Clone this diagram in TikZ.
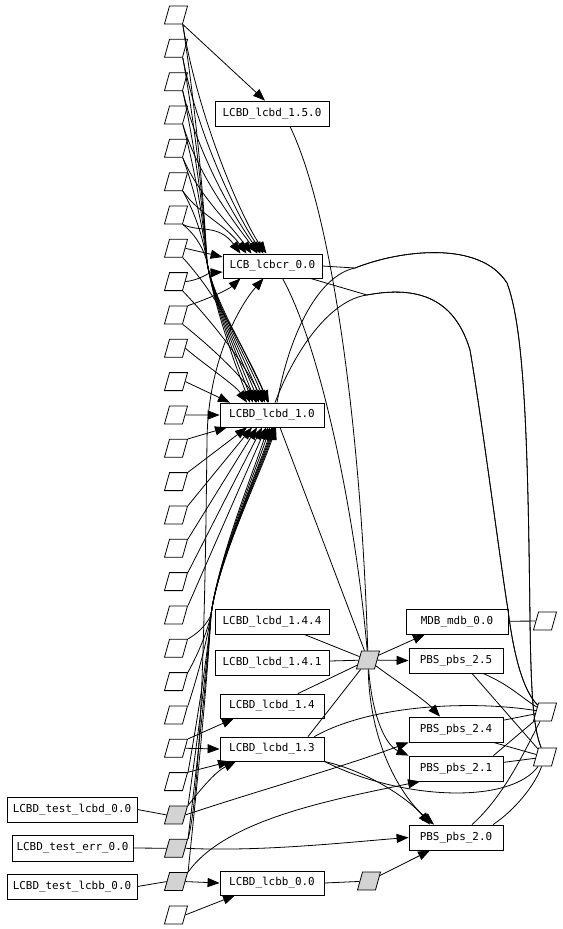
\documentclass[tikz,border=0pt]{standalone}
\usepackage{fontspec}
\newfontfamily\dotfont{DejaVu Sans Mono}
\usetikzlibrary{arrows.meta, calc}
\definecolor{srcgray}{RGB}{211,211,211}

\tikzset{
  file/.style={draw, rectangle, minimum width=13.5pt, minimum height=13.5pt, inner sep=0pt,
    xslant=0.28, transform shape},
  srcfile/.style={file, fill=srcgray},
  modbox/.style={draw, minimum height=18.75pt, inner sep=0pt,
    font=\dotfont\fontsize{8.2}{9}\selectfont},
  dep/.style={-{Triangle[length=9pt,width=6.8pt]}},
}

\begin{document}
\begin{tikzpicture}[x=0.75pt,y=-0.75pt,line width=0.6pt]
  \useasboundingbox (0,0) rectangle (562,929);

  % left column of files, 33.33 apart
  \foreach \i in {1,...,24,28}
    \node[file] (f\i) at (176,{15+(\i-1)*33.33}) {};
  \foreach \i in {25,26,27}
    \node[srcfile] (f\i) at (176,{15+(\i-1)*33.33}) {};

  % modules
  \node[modbox,minimum width=85.5pt] (l150)  at (272,113.5) {LCBD\_lcbd\_1.5.0};
  \node[modbox,minimum width=74.25pt,minimum height=18pt] (lcbcr) at (272.5,266) {LCB\_lcbcr\_0.0};
  \node[modbox,minimum width=78pt,minimum height=18pt] (l10) at (272,415) {LCBD\_lcbd\_1.0};
  \node[modbox,minimum width=85.5pt] (l144)  at (272,621.5) {LCBD\_lcbd\_1.4.4};
  \node[modbox,minimum width=85.5pt] (l141)  at (272,662.5) {LCBD\_lcbd\_1.4.1};
  \node[modbox,minimum width=78pt,minimum height=18pt] (l14) at (272,706) {LCBD\_lcbd\_1.4};
  \node[modbox,minimum width=78pt,minimum height=18pt] (l13) at (272,749) {LCBD\_lcbd\_1.3};
  \node[modbox,minimum width=78pt,minimum height=18pt] (lcbb) at (272,883) {LCBD\_lcbb\_0.0};
  \node[modbox,minimum width=97.5pt] (tl) at (72,809.5) {LCBD\_test\_lcbd\_0.0};
  \node[modbox,minimum width=90.75pt,minimum height=19.5pt] (te) at (72.5,848) {LCBD\_test\_err\_0.0};
  \node[modbox,minimum width=97.5pt] (tb) at (72,886.5) {LCBD\_test\_lcbb\_0.0};
  \node[modbox,minimum width=76.5pt] (mdb) at (457,621.5) {MDB\_mdb\_0.0};
  \node[modbox,minimum width=70.5pt] (p25) at (456,660.5) {PBS\_pbs\_2.5};
  \node[modbox,minimum width=70.5pt] (p24) at (456,729.5) {PBS\_pbs\_2.4};
  \node[modbox,minimum width=70.5pt] (p21) at (456,768.5) {PBS\_pbs\_2.1};
  \node[modbox,minimum width=70.5pt] (p20) at (456,837.5) {PBS\_pbs\_2.0};

  % other files
  \node[srcfile] (c)  at (368,660) {};
  \node[srcfile] (g2) at (369,881) {};
  \node[file] (r1) at (545,621) {};
  \node[file] (r2) at (545,712) {};
  \node[file] (r3) at (545,757) {};

  \coordinate (topneck) at (207,262);
  \coordinate (botneck) at (211,615);

  % top files -> LCB_lcbcr_0.0 and LCBD_lcbd_1.0
  \draw[dep] (f1.south east) -- ($(l150.north)+(-7,0)$);
  \foreach \i/\dx/\ex in {1/-6/-4,2/-9/-7,3/-12/-10,4/-15/-13,5/-21/-16,6/-26/-19,7/-32/-22}{
    \pgfmathsetmacro\yy{15+(\i-1)*33.33}
    \pgfmathsetmacro\ya{\yy+(254-\yy)*0.45}
    \pgfmathsetmacro\yb{\yy+(262-\yy)*0.5}
    \pgfmathsetmacro\yc{262-(262-\yy)*0.15}
    \draw[dep] (f\i.south east) .. controls (199,\ya) and ($(lcbcr.north)+(\dx-22,-30)$) .. ($(lcbcr.north)+(\dx,0)$);
    \draw[dep] (f\i.south east) .. controls (200,\yb) and (205,\yc) .. (topneck)
      .. controls (213,300) and ($(l10.north)+(\ex-18,-45)$) .. ($(l10.north)+(\ex,0)$);
  }
  \draw[dep] (f8.east) -- ($(lcbcr.west)+(0,-9)$);
  \draw[dep] (f8.south east) .. controls (222,300) and (248,360) .. ($(l10.north)+(-3,0)$);
  \draw[dep] (f9.east) .. controls (200,280) and (208,273) .. ($(lcbcr.west)+(0,6)$);
  \draw[dep] (f9.south east) .. controls (220,330) and (248,370) .. ($(l10.north)+(-9,0)$);
  \draw[dep] (f10.north east) .. controls (205,300) and (228,290) .. ($(lcbcr.south)+(-32,0)$);
  \draw[dep] (f10.south east) .. controls (215,350) and (245,380) .. ($(l10.north)+(-15,0)$);
  \draw[dep] (f11.east) .. controls (205,365) and (235,385) .. ($(l10.north)+(-25,0)$);
  \draw[dep] (f12.east) -- ($(l10.north)+(-42,0)$);
  \draw[dep] (f13.east) -- (l10.west);

  % files below -> LCBD_lcbd_1.0
  \foreach \i/\dx in {14/-45,15/-25,16/-20,17/-15,18/-10,19/-6}
    \draw[dep] (f\i.north east) -- ($(l10.south)+(\dx,0)$);
  \foreach \i/\dx in {20/-4,21/-2,22/0,24/1,25/2,26/3,27/4}{
    \pgfmathsetmacro\yy{15+(\i-1)*33.33}
    \draw[dep] (f\i.north east) .. controls (201,{\yy-(\yy-615)*0.5}) and (208,{615+(\yy-615)*0.2}) .. (botneck)
      .. controls (218,560) and ($(l10.south)+(\dx-15,45)$) .. ($(l10.south)+(\dx,0)$);
  }
  \draw[dep] (f26.north east) .. controls (204,780) and (206,520) .. (207,440)
    .. controls (208,360) and (240,305) .. ($(lcbcr.south)+(-9,0)$);

  % lower left
  \draw[dep] (f23.north east) -- ($(l14.south)+(-38,0)$);
  \draw[dep] (f23.east) -- (l13.west);
  \draw[dep] (f24.north east) -- ($(l13.south)+(-42,0)$);
  \draw[dep] (f25.north east) .. controls (200,790) and (215,772) .. ($(l13.south)+(-36,0)$);
  \draw[dep] (f25.east) .. controls (260,790) and (340,768) .. (p24.south west);
  \draw[dep] (f26.east) .. controls (260,852) and (350,842) .. (p20.west);
  \draw[dep] (f27.north east) .. controls (225,820) and (330,800) .. ($(p21.south)+(-36,0)$);
  \draw[dep] (f27.east) -- (lcbb.west);
  \draw[dep] (f28.east) -- ($(lcbb.south)+(-37,0)$);
  \draw (tl.east) -- (f25.west);
  \draw (te.east) -- (f26.west);
  \draw (tb.east) -- (f27.west);
  \draw (lcbb.east) -- (g2);
  \draw[dep] (g2) -- ($(p20.south)+(-26,0)$);

  % central file
  \draw ($(l150.south)+(18,0)$) .. controls (335,220) and (362,450) .. (c);
  \draw ($(lcbcr.south)+(10,0)$) .. controls (322,350) and (356,520) .. (c);
  \draw ($(l10.south)+(8,0)$) -- (c);
  \draw (l144) -- (c);
  \draw (l141) -- (c);
  \draw (l14) -- (c);
  \draw ($(l13.north)+(36,0)$) -- (c);
  \draw[dep] (c) -- ($(mdb.south)+(-32,0)$);
  \draw[dep] (c) -- (p25.west);
  \draw[dep] (c) .. controls (395,680) and (425,700) .. ($(p24.north)+(-16,0)$);
  \draw[dep] (c) .. controls (372,715) and (385,745) .. (p21.north west);
  \draw[dep] (c) .. controls (370,750) and (405,800) .. ($(p20.north)+(-22,0)$);
  \draw[dep] (l13.south east) .. controls (370,772) and (410,800) .. ($(p20.north)+(-26,0)$);
  \draw ($(l13.north east)+(-10,0)$) .. controls (370,705) and (470,700) .. (r2);
  \draw (l13.south east) .. controls (400,800) and (510,805) .. (r3);

  % right files
  \draw (mdb) -- (r1);
  \draw ($(p25.south)+(16,0)$) -- (r3);
  \draw ($(p25.south)+(27,0)$) .. controls (510,685) and (522,698) .. (r2);
  \draw (p24) -- (r2);
  \draw ($(p24.south east)+(-10,0)$) -- (r3);
  \draw ($(p21.north east)+(-10,0)$) -- (r2);
  \draw (p21) -- (r3);
  \draw ($(p20.north)+(16,0)$) .. controls (505,795) and (525,750) .. (r2);
  \draw ($(p20.north)+(37,0)$) .. controls (515,810) and (535,785) .. (r3);

  % long arcs over the top
  \draw (lcbcr.east) -- (355,268) .. controls (400,250) and (480,240) .. (507,283)
    .. controls (525,330) and (528,450) .. (530,620) .. controls (531,700) and (534,730) .. (r3);
  \draw ($(l10.north)+(5,0)$) .. controls (290,330) and (320,275) .. (355,268)
    .. controls (400,250) and (480,240) .. (507,283)
    .. controls (525,330) and (528,450) .. (530,620) .. controls (531,700) and (534,730) .. (r3);
  \draw ($(lcbcr.south east)+(-12,0)$) -- (367,295) .. controls (420,285) and (455,300) .. (470,350)
    .. controls (482,420) and (500,560) .. (508,610) .. controls (513,650) and (522,690) .. (r2);
  \draw ($(l10.north)+(3,0)$) .. controls (295,350) and (330,300) .. (367,295)
    .. controls (420,285) and (455,300) .. (470,350)
    .. controls (482,420) and (500,560) .. (508,610) .. controls (513,650) and (522,690) .. (r2);
\end{tikzpicture}
\end{document}
